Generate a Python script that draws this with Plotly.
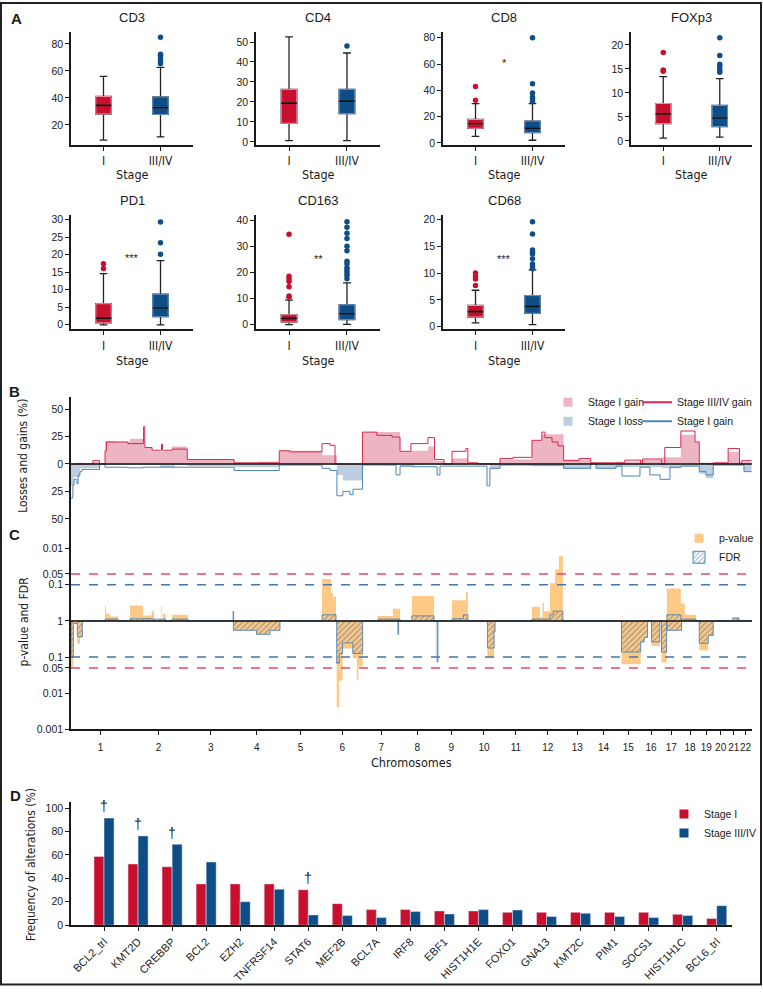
import plotly.graph_objects as go
import math

W, H = 763, 992

# ---------------- Panel A data ----------------
markers = ["CD3", "CD4", "CD8", "FOXp3", "PD1", "CD163", "CD68"]
stages = ["I", "III/IV"]
# [lowerfence, q1, median, q3, upperfence]
box_stage_I = {
    "CD3": [8.8, 28.1, 34.5, 41.1, 56.0],
    "CD4": [0.6, 9.3, 19.4, 26.3, 52.6],
    "CD8": [5.0, 11.1, 14.5, 17.8, 29.9],
    "FOXp3": [0.6, 3.6, 5.65, 7.8, 13.4],
    "PD1": [0.0, 0.55, 1.9, 6.0, 14.6],
    "CD163": [0.0, 1.0, 2.4, 3.8, 9.4],
    "CD68": [0.7, 1.8, 2.8, 3.95, 6.8],
}
box_stage_III = {
    "CD3": [11.2, 27.8, 32.7, 40.8, 62.6],
    "CD4": [0.6, 14.1, 20.4, 26.3, 44.5],
    "CD8": [2.0, 7.8, 11.1, 16.6, 29.9],
    "FOXp3": [0.8, 3.0, 4.8, 7.4, 13.0],
    "PD1": [0.0, 2.3, 4.8, 8.7, 18.3],
    "CD163": [0.1, 1.9, 4.2, 7.6, 16.0],
    "CD68": [0.37, 2.5, 3.76, 5.8, 10.6],
}
outliers_stage_I = {
    "CD3": [], "CD4": [], "CD8": [42.9, 32.4], "FOXp3": [18.4, 14.8, 14.5],
    "PD1": [17.4, 16.0], "CD163": [34.6, 18.5, 17.5, 16.5, 14.5, 11.0, 10.5],
    "CD68": [10.0, 9.4, 8.9, 7.7],
}
outliers_stage_III = {
    "CD3": [84.9, 72.4, 71.2, 69.0, 67.0, 65.5],
    "CD4": [48.0],
    "CD8": [80.0, 44.9, 37.9, 34.8, 33.3, 31.6],
    "FOXp3": [21.5, 17.8, 16.0, 15.4, 14.8, 14.3],
    "PD1": [29.3, 23.4, 20.1],
    "CD163": [39.4, 37.3, 35.0, 33.0, 30.0, 28.3, 24.3, 23.3, 21.8, 20.9, 19.9, 18.9, 17.6],
    "CD68": [19.6, 17.3, 14.3, 13.9, 13.6, 12.7, 11.7, 11.2, 10.8],
}
signif_text = {"CD8": "*", "PD1": "***", "CD163": "**", "CD68": "***"}
signif_y = {"CD8": 60.5, "PD1": 19.0, "CD163": 25.2, "CD68": 12.6}

# ---------------- Panel B / C data (genome in Mb) ----------------
chrom_names = [str(i) for i in range(1, 23)]
chrom_sizes = [249, 243, 198, 191, 181, 171, 159, 146, 141, 136, 135, 134,
               115, 107, 103, 90, 81, 78, 59, 63, 48, 51]

# step functions: breakpoints (Mb) and value from that breakpoint on
gainI_x = [0, 30, 46, 89, 123, 144, 186, 249, 309, 343, 427, 492, 690, 791, 881, 1062, 1125, 1233, 1392, 1438,
           1510, 1538, 1578, 1612, 1679, 1815, 1950, 1992, 2084, 2199, 2306, 2409, 2499, 2580, 2640, 2658, 2717,
           2780, 2828, 2879]
gainI_y = [0, 1, 0, 2, 0, 21, 20, 23, 15, 11.5, 16, 4, 1, 2, 12, 8, 0, 29, 11, 12,
           16, 3, 0, 5, 0.5, 4, 21, 27, 4, 1, 2, 4, 6, 26.5, 20, 0, 1, 11, 2, 2]

lossI_x = [0, 13, 38, 123, 249, 376, 440, 492, 690, 881, 1062, 1125, 1150, 1233, 1392, 1455, 1538, 1679, 1772,
           1815, 1950, 2084, 2199, 2221, 2306, 2409, 2499, 2580, 2658, 2686, 2717, 2780, 2847, 2879]
lossI_y = [-20, -12, -4, -1, -1, -3, -1, -2, -3, -0.5, -1, -10, -15, -1, -2, -1, -1, 0, -4,
           -1, -2, -4, 0, -4, -3, -3, -4, -2, -9, -13, -1, -1, -7, -7]

gainIII_x = [0, 93, 121, 144, 150, 241, 307, 312, 343, 383, 387, 427, 492, 690, 881, 926, 1062, 1096, 1117, 1125,
             1233, 1294, 1358, 1392, 1438, 1510, 1538, 1578, 1612, 1671, 1679, 1722, 1815, 1870, 1950, 1992, 2005,
             2035, 2060, 2084, 2149, 2199, 2306, 2343, 2409, 2418, 2499, 2512, 2580, 2640, 2658, 2717, 2780, 2828,
             2838, 2879]
gainIII_y = [0, 3, 0, 12, 20, 18.5, 34, 15, 12.5, 18, 12.5, 13.5, 4, 1, 12, 11, 18.5, 17, 0, 0,
             29, 26, 24.5, 11.5, 18.5, 24, 4, 0, 11.5, 14, 1, 0, 5, 6, 21.5, 29, 24,
             20, 16.5, 3, 5, 1, 1, 3.5, 0, 4.5, 0, 15, 30, 20, 0.5, 1, 14, 0, 3, 3]

lossIII_x = [0, 8, 13, 25, 30, 38, 46, 121, 144, 241, 304, 492, 690, 881, 1062, 1096, 1125, 1150, 1180, 1193,
             1233, 1375, 1392, 1442, 1549, 1561, 1679, 1760, 1772, 1815, 1950, 2084, 2199, 2221, 2306, 2331,
             2407, 2449, 2492, 2500, 2534, 2580, 2658, 2686, 2717, 2780, 2847, 2879]
lossIII_y = [-31, -19, -14, -18, -10, -7, -5, 0, -3, -3.5, -3, -3, -6, -1, -4, -6, -29, -25, -28, -23,
             -1, -10, -2, -2.5, -10, -2, -2, -20, -4, -1, -1, -4, 0, -4, -2, -11,
             -3, -10, -14, -14, -3, -2, -7, -10, -1, -1, -7, -7]

# Panel C segments: (start Mb, end Mb, value); value = -log10(p) for gains, log10(p) for losses
pval_gain = [(144, 148, 0.43), (148, 165, 0.2), (165, 199, 0.12),
             (250, 304, 0.43), (304, 341, 0.15), (341, 351, 0.27), (380, 383, 0.4), (388, 400, 0.2),
             (428, 494, 0.17),
             (1062, 1100, 1.16), (1100, 1108, 0.78), (1108, 1121, 0.67),
             (1299, 1362, 0.14), (1362, 1392, 0.34), (1442, 1536, 0.69),
             (1612, 1671, 0.57), (1671, 1679, 0.8),
             (1950, 1984, 0.39), (1984, 1995, 0.1), (1995, 2001, 0.5), (2001, 2026, 0.27),
             (2026, 2047, 1.04), (2047, 2064, 1.42), (2064, 2081, 1.8),
             (2521, 2580, 0.9), (2580, 2597, 0.48), (2597, 2644, 0.17), (2800, 2826, 0.1)]
fdr_gain = [(144, 199, 0.05), (250, 343, 0.06), (343, 400, 0.05), (428, 494, 0.05),
            (686, 688, 0.27), (1062, 1121, 0.17), (1299, 1392, 0.05), (1442, 1536, 0.14),
            (1612, 1660, 0.06), (1660, 1679, 0.17),
            (1950, 2026, 0.05), (2026, 2040, 0.17), (2040, 2081, 0.27),
            (2521, 2580, 0.17), (2580, 2644, 0.05), (2800, 2826, 0.08)]
pval_loss = [(0, 10, -1.28), (10, 27, -0.07), (27, 38, -0.63), (38, 48, -0.44),
             (687, 785, -0.26), (785, 842, -0.37), (842, 884, -0.26),
             (1124, 1135, -2.39), (1135, 1149, -1.65), (1149, 1192, -0.76), (1192, 1209, -1.03),
             (1209, 1216, -1.65), (1216, 1234, -1.26),
             (1762, 1790, -1.0), (1790, 1794, -0.3),
             (2329, 2410, -1.2), (2410, 2425, -0.58), (2425, 2439, -0.46),
             (2456, 2491, -0.69), (2498, 2520, -1.15), (2522, 2583, -0.26),
             (2658, 2696, -0.81), (2696, 2717, -0.4)]
fdr_loss = [(0, 10, -1.0), (10, 27, -0.07), (27, 48, -0.44),
            (687, 785, -0.26), (785, 842, -0.37), (842, 884, -0.26),
            (1124, 1135, -1.17), (1135, 1149, -0.9), (1149, 1192, -0.61), (1192, 1234, -0.9),
            (1383, 1386, -0.37), (1549, 1552, -1.14),
            (1762, 1790, -0.75), (1790, 1794, -0.3),
            (2329, 2410, -0.86), (2410, 2425, -0.58), (2425, 2439, -0.46),
            (2456, 2491, -0.58), (2498, 2520, -0.86), (2522, 2583, -0.26),
            (2658, 2696, -0.62), (2696, 2717, -0.4)]
p_thresholds = {"0.05": 0.05, "0.1": 0.1}
c_tick_p = [0.01, 0.05, 0.1, 1, 0.1, 0.05, 0.01, 0.001]
c_tick_sign = [1, 1, 1, 1, -1, -1, -1, -1]

# ---------------- Panel D data ----------------
genes = ["BCL2_trl", "KMT2D", "CREBBP", "BCL2", "EZH2", "TNFRSF14", "STAT6", "MEF2B", "BCL7A", "IRF8",
         "EBF1", "HIST1H1E", "FOXO1", "GNA13", "KMT2C", "PIM1", "SOCS1", "HIST1H1C", "BCL6_trl"]
freq_stage_I = [58.8, 52.3, 50.0, 35.3, 35.3, 35.3, 30.3, 18.4, 13.3, 13.3, 12.2, 12.2, 11.0, 11.0,
                11.0, 11.0, 11.0, 9.3, 5.7]
freq_stage_III = [91.5, 76.3, 69.2, 54.0, 20.1, 30.8, 8.8, 8.2, 6.5, 11.6, 9.6, 13.3, 13.0, 7.4,
                  10.2, 7.4, 6.5, 8.2, 16.7]
dagger_genes = ["BCL2_trl", "KMT2D", "CREBBP", "STAT6"]

# ---------------- styles ----------------
FONT = "Liberation Sans, Arial, Helvetica, sans-serif"
NARROW = "Liberation Sans Narrow, Arial Narrow, DejaVu Sans Condensed, Liberation Sans, sans-serif"
INK = "#1a1a1a"
RED = "#c8102e"
BLUE = "#0f4d87"
RED_EDGE = "#ef97a9"
BLUE_EDGE = "#6f9bc9"
PINK_FILL = "#edb5c1"
LBLUE_FILL = "#bccfe1"
RED_LINE = "#d72a4d"
BLUE_LINE = "#4f84b6"
ORANGE = "#fdc985"
HATCH = "#4a6e94"
DASH_RED = "#e2486a"
DASH_BLUE = "#4277ab"


def xd(a, b):
    return [a / W, b / W]


def yd(top, bottom):
    return [1 - bottom / H, 1 - top / H]


fig = go.Figure()
layout_axes = {}

# ---------------- Panel A ----------------
cols = [(71, 193), (256, 380), (443, 565), (631, 752), (71, 193), (256, 380), (443, 565)]
rows = [(30.7, 144)] * 4 + [(215, 330)] * 3
yranges = [[5.3, 88.5], [-1.5, 54.8], [-1.5, 84], [-0.8, 22.6], [-1.3, 31.2], [-1.8, 41.9], [-0.5, 20.8]]
ytickvals = [[20, 40, 60, 80], [0, 10, 20, 30, 40, 50], [0, 20, 40, 60, 80], [0, 5, 10, 15, 20],
             [0, 5, 10, 15, 20, 25, 30], [0, 10, 20, 30, 40], [0, 5, 10, 15, 20]]

for i, m in enumerate(markers):
    n = i + 1
    xa, ya = f"x{n}", f"y{n}"
    groups = [(stages[0], box_stage_I[m], outliers_stage_I[m], RED, RED_EDGE),
              (stages[1], box_stage_III[m], outliers_stage_III[m], BLUE, BLUE_EDGE)]
    for stage, stats, outs, fill, edge in groups:
        lo, q1, med, q3, hi = stats
        common = dict(x=[stage], xaxis=xa, yaxis=ya, width=0.27, boxpoints=False, orientation="v",
                      showlegend=False, hoverinfo="skip")
        fig.add_trace(go.Box(q1=[q1], median=[med], q3=[q3], lowerfence=[lo], upperfence=[hi],
                             fillcolor=fill, line=dict(color="#222222", width=1.3), whiskerwidth=0.5, **common))
        fig.add_trace(go.Box(q1=[q1], median=[med], q3=[q3], lowerfence=[q1], upperfence=[q3],
                             fillcolor=fill, line=dict(color=edge, width=1), whiskerwidth=0, **common))
        fig.add_trace(go.Box(q1=[med], median=[med], q3=[med], lowerfence=[med], upperfence=[med],
                             fillcolor="rgba(0,0,0,0)", line=dict(color="#111111", width=1.6),
                             whiskerwidth=0, **common))
        if outs:
            fig.add_trace(go.Scatter(x=[stage] * len(outs), y=outs, mode="markers",
                                     marker=dict(color=fill, size=5.5), xaxis=xa, yaxis=ya,
                                     showlegend=False, hoverinfo="skip"))
    suffix = "" if n == 1 else str(n)
    layout_axes[f"xaxis{suffix}"] = dict(
        domain=xd(*cols[i]), anchor=ya, type="category", categoryorder="array", categoryarray=stages,
        range=[-0.57, 1.57], showline=True, linecolor=INK, linewidth=1.6, ticks="outside", ticklen=4,
        tickcolor=INK, showgrid=False, zeroline=False, tickfont=dict(family=NARROW, size=12, color=INK))
    layout_axes[f"yaxis{suffix}"] = dict(
        domain=yd(*rows[i]), anchor=xa, range=yranges[i], tickvals=ytickvals[i], showline=True,
        linecolor=INK, linewidth=1.6, ticks="outside", ticklen=4, tickcolor=INK, showgrid=False,
        zeroline=False, tickfont=dict(family=FONT, size=10.5, color=INK))
    if m in signif_text:
        fig.add_annotation(x=0.5, y=signif_y[m], xref=xa, yref=ya, text=signif_text[m], showarrow=False,
                           font=dict(family=FONT, size=11, color=INK))

# ---------------- Panel B ----------------
genome_end = sum(chrom_sizes)
chrom_start = [sum(chrom_sizes[:k]) for k in range(len(chrom_sizes))]
chrom_center = [s + c / 2 for s, c in zip(chrom_start, chrom_sizes)]

fig.add_trace(go.Scatter(x=gainI_x, y=gainI_y, mode="lines", line=dict(shape="hv", width=0),
                         fill="tozeroy", fillcolor=PINK_FILL, xaxis="x8", yaxis="y8",
                         showlegend=False, hoverinfo="skip"))
fig.add_trace(go.Scatter(x=lossI_x, y=lossI_y, mode="lines", line=dict(shape="hv", width=0),
                         fill="tozeroy", fillcolor=LBLUE_FILL, xaxis="x8", yaxis="y8",
                         showlegend=False, hoverinfo="skip"))
fig.add_trace(go.Scatter(x=gainIII_x, y=gainIII_y, mode="lines", line=dict(shape="hv", width=1, color=RED_LINE),
                         xaxis="x8", yaxis="y8", showlegend=False, hoverinfo="skip"))
fig.add_trace(go.Scatter(x=lossIII_x, y=lossIII_y, mode="lines", line=dict(shape="hv", width=1, color=BLUE_LINE),
                         xaxis="x8", yaxis="y8", showlegend=False, hoverinfo="skip"))
# legend entries for B
fig.add_trace(go.Scatter(x=[None], y=[None], mode="markers", name="Stage I gain",
                         marker=dict(symbol="square", size=9, color=PINK_FILL), xaxis="x8", yaxis="y8",
                         legend="legend"))
fig.add_trace(go.Scatter(x=[None], y=[None], mode="markers", name="Stage I loss",
                         marker=dict(symbol="square", size=9, color=LBLUE_FILL), xaxis="x8", yaxis="y8",
                         legend="legend"))
fig.add_trace(go.Scatter(x=[None], y=[None], mode="lines", name="Stage III/IV gain",
                         line=dict(color=RED_LINE, width=2), xaxis="x8", yaxis="y8", legend="legend2"))
fig.add_trace(go.Scatter(x=[None], y=[None], mode="lines", name="Stage I gain",
                         line=dict(color=BLUE_LINE, width=2), xaxis="x8", yaxis="y8", legend="legend2"))

layout_axes["xaxis8"] = dict(domain=xd(71, 752), anchor="y8", range=[0, genome_end + 2], visible=False)
layout_axes["yaxis8"] = dict(domain=yd(398.3, 530), anchor="x8", range=[-58.1, 60.9],
                             tickvals=[-50, -25, 0, 25, 50], ticktext=["50", "25", "0", "25", "50"],
                             showline=True, linecolor=INK, linewidth=1.6, ticks="outside", ticklen=4,
                             tickcolor=INK, showgrid=False, zeroline=False,
                             tickfont=dict(family=FONT, size=10.5, color=INK))


# ---------------- Panel C ----------------
def steps(segs):
    xs, ys = [0.0], [0.0]
    prev_end = None
    for s, e, v in segs:
        if prev_end is not None and abs(s - prev_end) < 1e-9:
            ys[-1] = v
        else:
            xs.append(s)
            ys.append(v)
        xs.append(e)
        ys.append(0.0)
        prev_end = e
    xs.append(genome_end)
    ys.append(0.0)
    return xs, ys


for segs in (pval_gain, pval_loss):
    sx, sy = steps(segs)
    fig.add_trace(go.Scatter(x=sx, y=sy, mode="lines", line=dict(shape="hv", width=0), fill="tozeroy",
                             fillcolor=ORANGE, xaxis="x9", yaxis="y9", showlegend=False, hoverinfo="skip"))
for segs in (fdr_gain, fdr_loss):
    sx, sy = steps(segs)
    fig.add_trace(go.Scatter(x=sx, y=sy, mode="lines", line=dict(shape="hv", width=0.9, color=BLUE_LINE),
                             fill="tozeroy", fillcolor="rgba(0,0,0,0)",
                             fillpattern=dict(shape="/", fgcolor=HATCH, bgcolor="rgba(0,0,0,0)",
                                              size=4, solidity=0.35),
                             xaxis="x9", yaxis="y9", showlegend=False, hoverinfo="skip"))
fig.add_trace(go.Scatter(x=[None], y=[None], mode="markers", name="p-value",
                         marker=dict(symbol="square", size=9, color=ORANGE), xaxis="x9", yaxis="y9",
                         legend="legend3"))
fig.add_trace(go.Bar(x=[None], y=[None], name="FDR", xaxis="x9", yaxis="y9", legend="legend3",
                     marker=dict(color="white", line=dict(color=BLUE_LINE, width=1),
                                 pattern=dict(shape="/", fgcolor=BLUE_LINE, size=4, solidity=0.4))))

c_tickvals = [sg * -math.log10(p) for p, sg in zip(c_tick_p, c_tick_sign)]
c_ticktext = [f"{p:g}" for p in c_tick_p]
layout_axes["xaxis9"] = dict(domain=xd(71, 752), anchor="y9", range=[0, genome_end + 2],
                             tickvals=chrom_center, ticktext=chrom_names, tickangle=0, showline=True,
                             linecolor=INK, linewidth=1.6, ticks="outside", ticklen=4, tickcolor=INK,
                             ticklabelstandoff=4,
                             showgrid=False, zeroline=False, tickfont=dict(family=FONT, size=10, color=INK))
layout_axes["yaxis9"] = dict(domain=yd(530, 733.3), anchor="x9", range=[-3, 2.579],
                             tickvals=c_tickvals, ticktext=c_ticktext, showline=True, linecolor=INK,
                             linewidth=1.6, ticks="outside", ticklen=4, tickcolor=INK, showgrid=False,
                             zeroline=False, tickfont=dict(family=FONT, size=10.5, color=INK))

shapes = []
for lab, col in (("0.05", DASH_RED), ("0.1", DASH_BLUE)):
    v = -math.log10(p_thresholds[lab])
    for sgn in (1, -1):
        shapes.append(dict(type="line", xref="x9 domain", yref="y9", x0=0, x1=1, y0=sgn * v, y1=sgn * v,
                           line=dict(color=col, width=1.5, dash="dash"), layer="above"))
shapes.append(dict(type="line", xref="x9 domain", yref="y9", x0=0, x1=1, y0=0, y1=0,
                   line=dict(color="#111111", width=1.6), layer="above"))
shapes.append(dict(type="line", xref="x8 domain", yref="y8", x0=0, x1=1, y0=0, y1=0,
                   line=dict(color="#111111", width=1.6), layer="above"))

# ---------------- Panel D ----------------
fig.add_trace(go.Bar(x=genes, y=freq_stage_I, name="Stage I", marker=dict(color=RED), xaxis="x10", yaxis="y10",
                     showlegend=False, hoverinfo="skip"))
fig.add_trace(go.Bar(x=genes, y=freq_stage_III, name="Stage III/IV", marker=dict(color=BLUE), xaxis="x10",
                     yaxis="y10", showlegend=False, hoverinfo="skip"))
fig.add_trace(go.Scatter(x=[None], y=[None], mode="markers", name="Stage I",
                         marker=dict(symbol="square", size=9, color=RED), xaxis="x10", yaxis="y10",
                         legend="legend4"))
fig.add_trace(go.Scatter(x=[None], y=[None], mode="markers", name="Stage III/IV",
                         marker=dict(symbol="square", size=9, color=BLUE), xaxis="x10", yaxis="y10",
                         legend="legend4"))
for g in dagger_genes:
    k = genes.index(g)
    fig.add_annotation(x=g, y=max(freq_stage_I[k], freq_stage_III[k]) + 10, xref="x10", yref="y10",
                       text="†", showarrow=False, font=dict(family=FONT, size=14, color=INK))

layout_axes["xaxis10"] = dict(domain=xd(71, 731.7), anchor="y10", type="category", range=[-0.97, 18.44],
                              tickangle=-45, showline=True, linecolor=INK, linewidth=1.6, ticks="outside",
                              ticklen=4, tickcolor=INK, showgrid=False, zeroline=False,
                              tickfont=dict(family=FONT, size=11, color=INK))
layout_axes["yaxis10"] = dict(domain=yd(806.7, 930.7), anchor="x10", range=[0, 105.1],
                              tickvals=[0, 20, 40, 60, 80, 100], showline=True, linecolor=INK, linewidth=1.6,
                              ticks="outside", ticklen=4, tickcolor=INK, showgrid=False, zeroline=False,
                              tickfont=dict(family=FONT, size=10.5, color=INK))


# ---------------- text annotations ----------------
def ann(text, px, py, size, family=FONT, angle=0):
    fig.add_annotation(text=text, x=px / W, y=1 - py / H, xref="paper", yref="paper", xanchor="center",
                       yanchor="middle", showarrow=False, textangle=angle,
                       font=dict(size=size, family=family, color=INK))


for lab, px, py in (("A", 16.5, 16.7), ("B", 14, 393), ("C", 14.5, 536.7), ("D", 15.3, 800)):
    ann(f"<b>{lab}</b>", px, py, 15)
for i, m in enumerate(markers):
    cx = (cols[i][0] + cols[i][1]) / 2
    ty = 16 if i < 4 else 200.5
    sy = 174 if i < 4 else 361.5
    ann(m, cx, ty, 13)
    ann("Stage", cx, sy, 12.5, NARROW)
ann("Losses and gains (%)", 23.5, 458, 12, NARROW, -90)
ann("p-value and FDR", 23.5, 625, 12, NARROW, -90)
ann("Chromosomes", 411.5, 767, 12.5, NARROW)
ann("Frequency of alterations (%)", 31, 870, 12, NARROW, -90)

# frame
shapes.append(dict(type="rect", xref="paper", yref="paper", x0=1 / W, x1=761 / W, y0=1 - 990.5 / H,
                   y1=1 - 1 / H, line=dict(color="#222222", width=2), layer="above"))

legend_common = dict(xanchor="left", yanchor="top", bgcolor="rgba(0,0,0,0)", borderwidth=0,
                     font=dict(family=FONT, size=10.5, color=INK), tracegroupgap=0, itemwidth=30,
                     orientation="v")
fig.update_layout(
    width=W, height=H, margin=dict(l=0, r=0, t=0, b=0), autosize=False,
    paper_bgcolor="white", plot_bgcolor="rgba(0,0,0,0)",
    font=dict(family=FONT, size=11, color=INK),
    barmode="group", bargap=0.41, bargroupgap=0,
    showlegend=True,
    legend=dict(x=548 / W, y=1 - 389 / H, **legend_common),
    legend2=dict(x=637 / W, y=1 - 389 / H, **legend_common),
    legend3=dict(x=679 / W, y=1 - 526 / H, **legend_common),
    legend4=dict(x=664 / W, y=1 - 804 / H, **legend_common),
    shapes=shapes,
    **layout_axes,
)

fig.write_html("out.html", config={"displayModeBar": False},
               post_script="document.body.style.margin='0';document.body.style.overflow='hidden';")
